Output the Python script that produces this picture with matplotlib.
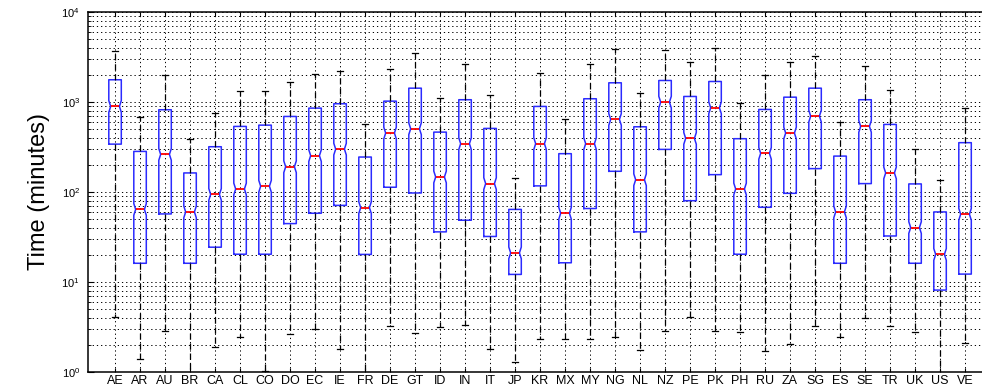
import matplotlib
matplotlib.use("Agg")
import matplotlib.pyplot as plt
import numpy as np

plt.rcParams["font.family"] = ["Liberation Sans", "DejaVu Sans"]
plt.rcParams["mathtext.fontset"] = "custom"
plt.rcParams["mathtext.rm"] = "Liberation Sans"
plt.rcParams["mathtext.it"] = "Liberation Sans:italic"
plt.rcParams["mathtext.bf"] = "Liberation Sans:bold"

# Per-country time distributions (minutes)
countries = ["AE", "AR", "AU", "BR", "CA", "CL", "CO", "DO", "EC", "IE", "FR", "DE",
             "GT", "ID", "IN", "IT", "JP", "KR", "MX", "MY", "NG", "NL", "NZ", "PE",
             "PK", "PH", "RU", "ZA", "SG", "ES", "SE", "TR", "UK", "US", "VE"]
whisker_hi = [3750, 688, 1980, 388, 749, 1337, 1337, 1667, 2047, 2250, 570, 2350,
              3540, 1099, 2670, 1208, 143, 2130, 654, 2670, 3920, 1271, 3850, 2780,
              4050, 975, 1995, 2780, 3300, 606, 2510, 1349, 303, 136, 866]
upper_quartile = [1775, 283, 823, 163, 319, 537, 555, 693, 858, 960, 245, 1026,
                  1431, 464, 1064, 510, 64, 896, 267, 1091, 1642, 532, 1742, 1157,
                  1698, 392, 829, 1136, 1431, 251, 1064, 565, 123, 60, 354]
median = [896, 64, 262, 60, 94, 108, 116, 191, 254, 300, 67, 453,
          506, 147, 345, 124, 21, 345, 58, 345, 642, 137, 1000, 395,
          866, 108, 269, 453, 699, 60, 537, 163, 40.2, 20.2, 56.5]
lower_quartile = [341, 16.1, 57, 16.1, 24.3, 20.3, 20.3, 44.5, 58, 71, 20.2, 113,
                  97.5, 36, 48.5, 32, 12.1, 117, 16.3, 65.5, 170, 36, 298, 80,
                  156, 20.3, 67.6, 96.7, 182, 16.1, 124, 32.4, 16.1, 8.1, 12.2]
whisker_lo = [4.08, 1.37, 2.83, 0.8, 1.9, 2.41, 1.03, 2.62, 3.0, 1.79, 0.8, 3.2,
              2.71, 3.11, 3.33, 1.79, 1.27, 2.31, 2.31, 2.31, 2.41, 1.74, 2.83, 4.02,
              2.83, 2.78, 1.71, 2.02, 3.24, 2.41, 3.98, 3.24, 2.74, 0.8, 2.07]

notch_half = 0.065   # notch half-height in decades
box_width = 0.5
notch_ratio = 0.7    # width at the median relative to the box width

stats = []
for name, lo, q1, med, q3, hi in zip(countries, whisker_lo, lower_quartile,
                                      median, upper_quartile, whisker_hi):
    stats.append(dict(label=name, whislo=lo, q1=q1, med=med, q3=q3, whishi=hi,
                      cilo=med * 10 ** (-notch_half), cihi=med * 10 ** notch_half,
                      fliers=[]))

W, H = 982, 388
fig = plt.figure(figsize=(W / 100, H / 100), dpi=100)
left_px, top_px, bottom_px = 88.3, 12.3, 371.7
unit_px = 25.0
xmin, xmax = -0.07, 36.0
ax = fig.add_axes([left_px / W, (H - bottom_px) / H,
                   (xmax - xmin) * unit_px / W, (bottom_px - top_px) / H])

positions = np.arange(1, len(countries) + 1)
art = ax.bxp(stats, positions=positions, widths=box_width, shownotches=True,
             showfliers=False,
             boxprops=dict(color="#2b2bff", linewidth=1.1),
             medianprops=dict(color="red", linewidth=1.3),
             whiskerprops=dict(color="black", linewidth=0.9, linestyle=(0, (5, 3))),
             capprops=dict(color="black", linewidth=0.9))

# shallower notches: widen the waist of each box and its median line
half_notch = 0.5 * box_width * notch_ratio
for pos, box, med_line in zip(positions, art["boxes"], art["medians"]):
    xs = np.asarray(box.get_xdata(), dtype=float)
    inner = np.isclose(np.abs(xs - pos), 0.25 * box_width)
    xs[inner] = pos + np.sign(xs[inner] - pos) * half_notch
    box.set_xdata(xs)
    mx = np.asarray(med_line.get_xdata(), dtype=float)
    med_line.set_xdata(pos + np.sign(mx - pos) * half_notch)

ax.set_yscale("log")
ax.set_ylim(1, 1e4)
ax.set_xlim(xmin, xmax)
ax.set_xticks(positions)
ax.set_xticklabels(countries, fontsize=9)

ax.grid(True, which="major", axis="both", color="black", linestyle=(0, (1.3, 3.0)),
        linewidth=0.7)
ax.grid(True, which="minor", axis="y", color="black", linestyle=(0, (1.3, 3.0)),
        linewidth=0.7)
ax.set_axisbelow(True)

ax.tick_params(axis="both", which="both", direction="in", top=True, right=True)
ax.tick_params(axis="x", length=3, pad=2.5)
ax.tick_params(axis="y", which="major", length=4, labelsize=8, pad=6)
ax.tick_params(axis="y", which="minor", length=2)

for s in ax.spines.values():
    s.set_linewidth(1.1)

ax.set_ylabel("Time (minutes)", fontsize=17)
ax.yaxis.set_label_coords(-0.042, 0.5)

fig.savefig("out.png", dpi=100)
